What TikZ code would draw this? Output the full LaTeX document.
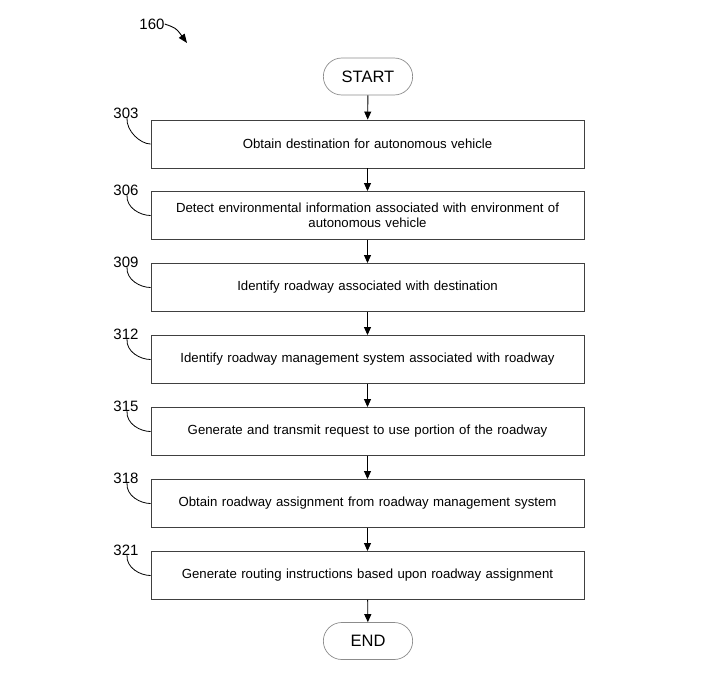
\documentclass[tikz,border=0pt]{standalone}
\usepackage{fontspec}
\setmainfont{Liberation Sans}
\usetikzlibrary{arrows.meta,shapes.misc}
\begin{document}
\begin{tikzpicture}[x=1pt,y=-1pt,
  stepbox/.style={draw=black!75,line width=0.9pt,minimum width=433pt,minimum height=48pt,align=center,font=\fontsize{13.2}{15.5}\selectfont,text width=425pt,inner sep=0pt},
  term/.style={draw=black!45,line width=0.7pt,rounded rectangle,minimum width=96pt,minimum height=37pt,font=\fontsize{16.5}{18}\selectfont},
  flow/.style={-{Triangle[length=8pt,width=7pt]},line width=0.9pt},
  lbl/.style={font=\fontsize{15}{17}\selectfont,inner sep=0pt},
  lead/.style={line width=0.8pt}]
\useasboundingbox (0,0) rectangle (710,673);
\node[term] (start) at (368,76.5) {START};
\node[stepbox] (b1) at (367.5,144) {Obtain destination for autonomous vehicle};
\node[stepbox] (b2) at (367.5,215.5) {Detect environmental information associated with environment of\\autonomous vehicle};
\node[stepbox] (b3) at (367.5,287.5) {Identify roadway associated with destination};
\node[stepbox] (b4) at (367.5,359.5) {Identify roadway management system associated with roadway};
\node[stepbox] (b5) at (367.5,431.5) {Generate and transmit request to use portion of the roadway};
\node[stepbox] (b6) at (367.5,503.5) {Obtain roadway assignment from roadway management system};
\node[stepbox] (b7) at (367.5,575.5) {Generate routing instructions based upon roadway assignment};
\node[term] (end) at (368,641) {END};
\draw[flow] (start) -- (b1);
\draw[flow] (b1) -- (b2);
\draw[flow] (b2) -- (b3);
\draw[flow] (b3) -- (b4);
\draw[flow] (b4) -- (b5);
\draw[flow] (b5) -- (b6);
\draw[flow] (b6) -- (b7);
\draw[flow] (b7) -- (end);
\foreach \n/\t/\y in {b1/303/113.5, b2/306/190.5, b3/309/262.5, b4/312/334.5, b5/315/406.5, b6/318/478.5, b7/321/550.5}{
  \node[lbl] (l\t) at (126,\y) {\t};
  \draw[lead] ([xshift=1pt,yshift=1pt]l\t.south) .. controls ([xshift=0pt,yshift=-12pt]l\t.south) and ([xshift=-10pt]\n.west) .. (\n.west);
}
\node[lbl] (fig) at (152,24) {160};
\coordinate (figend) at (187,43);
\draw[line width=0.9pt,-{Triangle[length=9pt,width=7pt]}] (fig.east) .. controls (176,28) .. (figend);
\end{tikzpicture}
\end{document}
